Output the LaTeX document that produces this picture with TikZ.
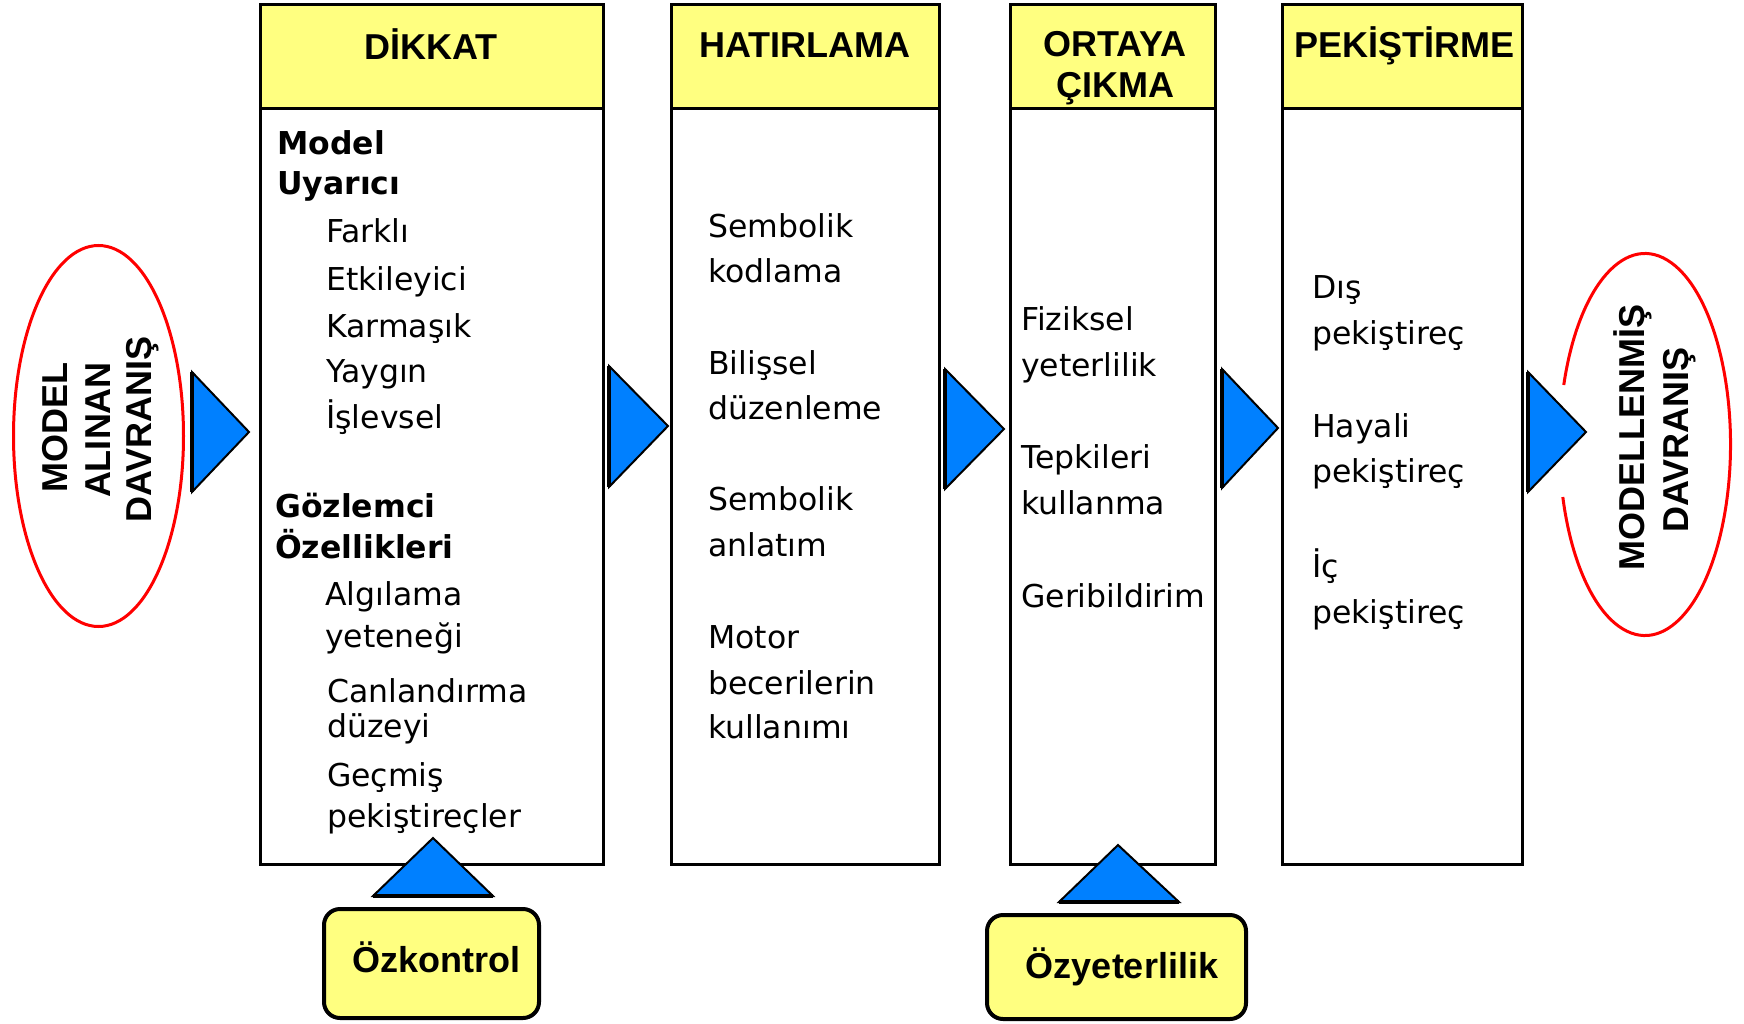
\documentclass[tikz,border=0pt]{standalone}
\usepackage{fontspec}
\setmainfont{DejaVu Sans}
\newfontfamily\hdfont{Liberation Sans}
\definecolor{hdyellow}{HTML}{FFFF80}
\definecolor{arrowblue}{HTML}{0080FF}
\definecolor{ellred}{HTML}{FF0000}
\begin{document}
\begin{tikzpicture}[x=1pt,y=-1pt,
  boxline/.style={draw=black, line width=3pt},
  blockarrow/.style={fill=arrowblue, draw=black, line width=2pt, line join=miter},
  arrowedge/.style={draw=black, line width=3.5pt},
  ellline/.style={draw=ellred, line width=3pt},
  labelbox/.style={draw=black, line width=4pt, fill=hdyellow, rounded corners=16pt, inner sep=0},
  hdr/.style={anchor=base, inner sep=0, font=\hdfont\fontsize{36}{42}\selectfont\bfseries},
  vtxt/.style={anchor=base, inner sep=0, rotate=90, font=\hdfont\fontsize{36}{42}\selectfont\bfseries},
  txt/.style={anchor=base west, inner sep=0, font=\fontsize{31.5}{38}\selectfont},
  txtb/.style={anchor=base west, inner sep=0, font=\fontsize{31.5}{38}\selectfont\bfseries}
]
\useasboundingbox[fill=white] (0,0) rectangle (1744,1024);

% column boxes
\fill[hdyellow] (260,5) rectangle (603.5,109);
\fill[hdyellow] (671,5) rectangle (939,109);
\fill[hdyellow] (1010.5,5) rectangle (1215,109);
\fill[hdyellow] (1282,5) rectangle (1522.5,109);
\draw[boxline] (260,5) rectangle (603.5,864) (260,109) -- (603.5,109);
\draw[boxline] (671,5) rectangle (939,864) (671,109) -- (939,109);
\draw[boxline] (1010.5,5) rectangle (1215,864) (1010.5,109) -- (1215,109);
\draw[boxline] (1282,5) rectangle (1522.5,864) (1282,109) -- (1522.5,109);

% headers
\node[hdr] (h1) at (431,60) {DİKKAT};
\node[hdr] (h2) at (805,58) {HATIRLAMA};
\node[hdr] (h3a) at (1115,57) {ORTAYA};
\node[hdr] (h3b) at (1115,98) {ÇIKMA};
\node[hdr] (h4) at (1404,58) {PEKİŞTİRME};

% block arrows
\draw[blockarrow] (192,372) -- (192,492) -- (249,432) -- cycle;
\draw[arrowedge] (192,372) -- (192,492);
\draw[blockarrow] (609,366) -- (609,487) -- (668,426) -- cycle;
\draw[arrowedge] (609,366) -- (609,487);
\draw[blockarrow] (945,369) -- (945,489) -- (1004,429) -- cycle;
\draw[arrowedge] (945,369) -- (945,489);
\draw[blockarrow] (1222,369) -- (1222,488) -- (1278,428) -- cycle;
\draw[arrowedge] (1222,369) -- (1222,488);
\draw[blockarrow] (1528,372) -- (1528,492) -- (1586,432) -- cycle;
\draw[arrowedge] (1528,372) -- (1528,492);
\draw[blockarrow] (433,838) -- (373,896) -- (493,896) -- cycle;
\draw[arrowedge] (373,896) -- (493,896);
\draw[blockarrow] (1118,845) -- (1059,902) -- (1179,902) -- cycle;
\draw[arrowedge] (1059,902) -- (1179,902);

% ellipses
\draw[ellline] (98.5,436) ellipse[x radius=85, y radius=190.5];
\draw[ellline] (1645,444.5) ++(198.15:85.5 and 191)
  arc[start angle=198.15, end angle=524.04, x radius=85.5, y radius=191];

\node[vtxt] (l1) at (67,427.5) {MODEL};
\node[vtxt] (l2) at (110,430) {ALINAN};
\node[vtxt] (l3) at (151,429.5) {DAVRANIŞ};
\node[vtxt] (r1) at (1644,437.5) {MODELLENMİŞ};
\node[vtxt] (r2) at (1688,440) {DAVRANIŞ};

% bottom labels
\node[labelbox, minimum width=215pt, minimum height=109pt] (ozk) at (431.5,963.5) {};
\node[hdr] (ozkt) at (436,972) {Özkontrol};
\node[labelbox, minimum width=259pt, minimum height=104pt] (ozy) at (1116.5,967) {};
\node[hdr] (ozyt) at (1122,978) {Özyeterlilik};

% DİKKAT column
\node[txtb] (a1) at (277,155) {Model};
\node[txtb] (a2) at (277,195) {Uyarıcı};
\node[txt] (a3) at (326,243) {Farklı};
\node[txt] (a4) at (326,290) {Etkileyici};
\node[txt] (a5) at (326,337) {Karmaşık};
\node[txt] (a6) at (326,382) {Yaygın};
\node[txt] (a7) at (326,428) {İşlevsel};
\node[txtb] (a8) at (275,517) {Gözlemci};
\node[txtb] (a9) at (275,558) {Özellikleri};
\node[txt] (a10) at (325,605) {Algılama};
\node[txt] (a11) at (325,647) {yeteneği};
\node[txt] (a12) at (327,702) {Canlandırma};
\node[txt] (a13) at (327,737) {düzeyi};
\node[txt] (a14) at (327,786) {Geçmiş};
\node[txt] (a15) at (327,827) {pekiştireçler};

% HATIRLAMA column
\node[txt] (b1) at (708,237) {Sembolik};
\node[txt] (b2) at (708,282) {kodlama};
\node[txt] (b3) at (708,374) {Bilişsel};
\node[txt] (b4) at (708,419) {düzenleme};
\node[txt] (b5) at (708,510) {Sembolik};
\node[txt] (b6) at (708,556) {anlatım};
\node[txt] (b7) at (708,648) {Motor};
\node[txt] (b8) at (708,694) {becerilerin};
\node[txt] (b9) at (708,738) {kullanımı};

% ORTAYA ÇIKMA column
\node[txt] (c1) at (1021,330) {Fiziksel};
\node[txt] (c2) at (1021,376) {yeterlilik};
\node[txt] (c3) at (1021,468) {Tepkileri};
\node[txt] (c4) at (1021,514) {kullanma};
\node[txt] (c5) at (1021,607) {Geribildirim};

% PEKİŞTİRME column
\node[txt] (d1) at (1312,298) {Dış};
\node[txt] (d2) at (1312,344) {pekiştireç};
\node[txt] (d3) at (1312,437) {Hayali};
\node[txt] (d4) at (1312,482) {pekiştireç};
\node[txt] (d5) at (1312,577) {İç};
\node[txt] (d6) at (1312,623) {pekiştireç};
\end{tikzpicture}
\end{document}
